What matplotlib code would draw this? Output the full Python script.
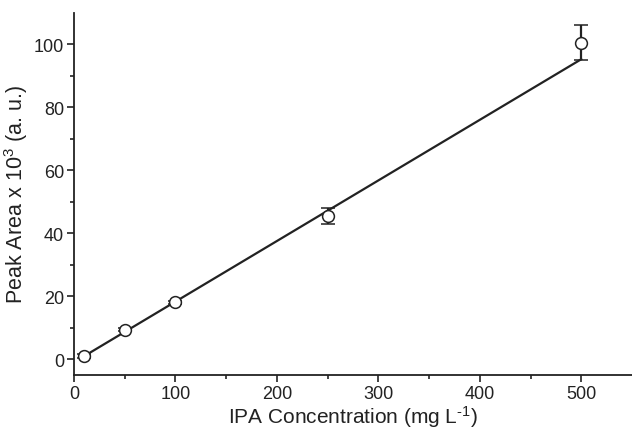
import numpy as np
import matplotlib
matplotlib.use("Agg")
import matplotlib.pyplot as plt
from matplotlib.ticker import MultipleLocator, FixedLocator

# IPA calibration data
conc = [10, 50, 100, 250, 500]
peak_area = [1.0, 9.3, 18.0, 45.5, 100.5]
peak_err = [0.5, 0.5, 0.6, 2.5, 5.5]

# linear fit shown on the plot
fit_slope = 0.1925
fit_intercept = -1.0

plt.rcParams['font.family'] = ['Liberation Sans', 'DejaVu Sans']
plt.rcParams['mathtext.fontset'] = 'custom'
plt.rcParams['mathtext.rm'] = 'Liberation Sans'
plt.rcParams['mathtext.default'] = 'regular'
ink = '#222222'

fig = plt.figure(figsize=(6.32, 4.31), dpi=100)
ax = fig.add_axes([0.117, 0.128, 0.883, 0.84])

x_fit = np.array([conc[0], conc[-1]])
ax.plot(x_fit, fit_slope * x_fit + fit_intercept, color=ink, lw=1.6, zorder=2)
ax.errorbar(conc, peak_area, yerr=peak_err, fmt='o', mfc='white', mec=ink, ms=8.5,
            mew=1.1, ecolor=ink, elinewidth=1.6, capsize=5, capthick=1.6, zorder=3)

ax.set_xlim(0, 550)
ax.set_ylim(-5, 110)
ax.set_xticks([0, 100, 200, 300, 400, 500])
ax.xaxis.set_minor_locator(FixedLocator([50, 150, 250, 350, 450]))
ax.yaxis.set_major_locator(MultipleLocator(20))
ax.yaxis.set_minor_locator(FixedLocator([10, 30, 50, 70, 90]))

for s in ['top', 'right']:
    ax.spines[s].set_visible(False)
for s in ['left', 'bottom']:
    ax.spines[s].set_color(ink)
    ax.spines[s].set_linewidth(1.3)

ax.tick_params(which='major', direction='out', length=5, width=1.2, colors=ink,
               labelsize=13, labelcolor=ink, pad=2)
ax.tick_params(which='minor', direction='out', length=3, width=1.2, colors=ink)

ax.set_xlabel('IPA Concentration (mg L$^{\\text{-1}}$)', fontsize=15, color=ink, labelpad=1)
ax.set_ylabel('Peak Area x 10$^{3}$ (a. u.)', fontsize=15.5, color=ink, labelpad=3)

fig.savefig('out.png', dpi=100)
